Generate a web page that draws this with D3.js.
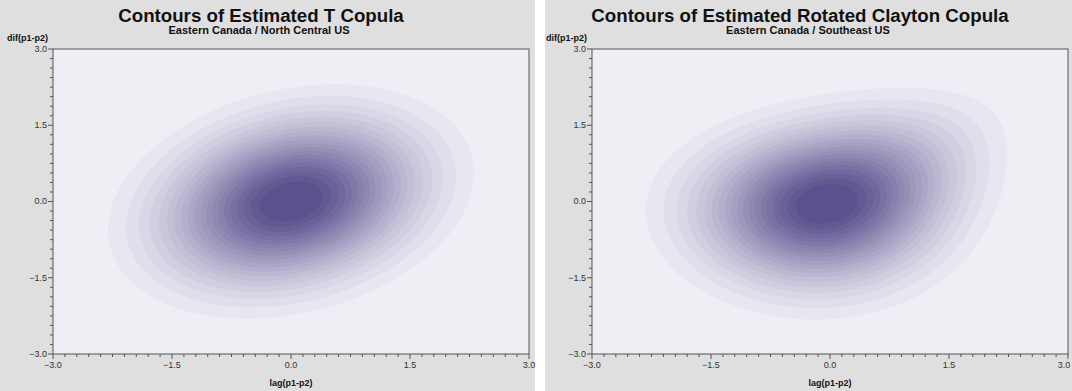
<!DOCTYPE html>
<html>
<head>
<meta charset="utf-8">
<script src="https://cdn.jsdelivr.net/npm/d3@7"></script>
<style>
  body { margin: 0; background: #ffffff; }
  svg { display: block; font-family: "Liberation Sans", Arial, sans-serif; }
</style>
</head>
<body>
<div id="chart"></div>
<script>
// panel texts
const titles = ["Contours of Estimated T Copula", "Contours of Estimated Rotated Clayton Copula"];
const subtitles = ["Eastern Canada / North Central US", "Eastern Canada / Southeast US"];
const xLabel = "lag(p1-p2)";
const yLabel = "dif(p1-p2)";

// axis ticks
const majorTicks = [-3.0, -1.5, 0.0, 1.5, 3.0];
const xMinorPerMajor = 10;
const yMinorPerMajor = 8;

// copula parameters (estimated), normal margins
const copulaTypes = ["gauss", "clayton180"];
const copulaParams = [0.24, 0.27];

// contour levels as fractions of each panel's peak density
const levelFractions = [0.07, 0.115, 0.16, 0.205, 0.25, 0.295, 0.34, 0.385, 0.43, 0.475,
  0.52, 0.565, 0.61, 0.655, 0.70, 0.745, 0.79, 0.835, 0.88, 0.925];

const W = 1072, H = 391;
const panels = [
  {x0: 0, x1: 535, left: 53, right: 529, top: 49, bottom: 354, titleX: 261, subX: 259},
  {x0: 545, x1: 1072, left: 592, right: 1068, top: 49, bottom: 354, titleX: 800, subX: 808}
];

const svg = d3.select("#chart").append("svg")
  .attr("width", W)
  .attr("height", H);

// helpers for densities
function erf(x) {
  const s = x < 0 ? -1 : 1;
  x = Math.abs(x);
  const t = 1 / (1 + 0.3275911 * x);
  const y = 1 - (((((1.061405429 * t - 1.453152027) * t) + 1.421413741) * t - 0.284496736) * t + 0.254829592) * t * Math.exp(-x * x);
  return s * y;
}
const Phi = x => 0.5 * (1 + erf(x / Math.SQRT2));
const phi = x => Math.exp(-x * x / 2) / Math.sqrt(2 * Math.PI);

function density(type, p, x, y) {
  if (type === "gauss") {
    const q = (x * x - 2 * p * x * y + y * y) / (1 - p * p);
    return Math.exp(-q / 2) / (2 * Math.PI * Math.sqrt(1 - p * p));
  }
  // survival clayton: c(1-u, 1-v)
  const u = 1 - Phi(x), v = 1 - Phi(y);
  const c = (1 + p) * Math.pow(u * v, -1 - p) * Math.pow(Math.pow(u, -p) + Math.pow(v, -p) - 1, -2 - 1 / p);
  return c * phi(x) * phi(y);
}

const n = 241;
const bandColor = d3.interpolateRgb("#e8e6f0", "#5b518e");

panels.forEach((pn, idx) => {
  const g = svg.append("g");

  g.append("rect")
    .attr("x", pn.x0).attr("y", 0)
    .attr("width", pn.x1 - pn.x0).attr("height", H)
    .attr("fill", "#dfdfdf");

  const x = d3.scaleLinear().domain([-3, 3]).range([pn.left, pn.right]);
  const y = d3.scaleLinear().domain([-3, 3]).range([pn.bottom, pn.top]);

  g.append("rect")
    .attr("x", pn.left).attr("y", pn.top)
    .attr("width", pn.right - pn.left).attr("height", pn.bottom - pn.top)
    .attr("fill", "#efeef5");

  // density grid
  const values = new Array(n * n);
  for (let j = 0; j < n; j++) {
    const yv = -3 + 6 * j / (n - 1);
    for (let i = 0; i < n; i++) {
      const xv = -3 + 6 * i / (n - 1);
      values[j * n + i] = density(copulaTypes[idx], copulaParams[idx], xv, yv);
    }
  }
  const peak = d3.max(values);
  const thresholds = levelFractions.map(f => f * peak);

  const contours = d3.contours().size([n, n]).thresholds(thresholds)(values);

  const proj = d3.geoTransform({
    point: function (gx, gy) {
      this.stream.point(x(-3 + 6 * (gx - 0.5) / (n - 1)), y(-3 + 6 * (gy - 0.5) / (n - 1)));
    }
  });
  const path = d3.geoPath(proj);

  g.append("g")
    .selectAll("path")
    .data(contours)
    .join("path")
    .attr("d", path)
    .attr("fill", (d, k) => bandColor(k / (contours.length - 1)));

  // frame
  g.append("rect")
    .attr("x", pn.left).attr("y", pn.top)
    .attr("width", pn.right - pn.left).attr("height", pn.bottom - pn.top)
    .attr("fill", "none")
    .attr("stroke", "#555")
    .attr("stroke-width", 1);

  // x axis ticks
  const xMinor = d3.range(0, 4 * xMinorPerMajor + 1).map(k => -3 + k * 1.5 / xMinorPerMajor);
  g.append("g").selectAll("line")
    .data(xMinor)
    .join("line")
    .attr("x1", d => x(d)).attr("x2", d => x(d))
    .attr("y1", pn.bottom).attr("y2", (d, k) => pn.bottom + (k % xMinorPerMajor === 0 ? 5 : 3))
    .attr("stroke", "#555");

  g.append("g").selectAll("text")
    .data(majorTicks)
    .join("text")
    .attr("x", d => Math.min(x(d), W - 8))
    .attr("y", pn.bottom + 14)
    .attr("text-anchor", "middle")
    .attr("font-size", 9)
    .attr("fill", "#333")
    .text(d => d3.format(".1f")(d));

  // y axis ticks
  const yMinor = d3.range(0, 4 * yMinorPerMajor + 1).map(k => -3 + k * 1.5 / yMinorPerMajor);
  g.append("g").selectAll("line")
    .data(yMinor)
    .join("line")
    .attr("y1", d => y(d)).attr("y2", d => y(d))
    .attr("x1", pn.left).attr("x2", (d, k) => pn.left - (k % yMinorPerMajor === 0 ? 5 : 3))
    .attr("stroke", "#555");

  g.append("g").selectAll("text")
    .data(majorTicks)
    .join("text")
    .attr("x", pn.left - 6)
    .attr("y", d => y(d))
    .attr("dy", "0.33em")
    .attr("text-anchor", "end")
    .attr("font-size", 9)
    .attr("fill", "#333")
    .text(d => d3.format(".1f")(d));

  // titles and labels
  g.append("text")
    .attr("x", pn.titleX).attr("y", 22)
    .attr("text-anchor", "middle")
    .attr("font-size", 18.7).attr("font-weight", "bold")
    .attr("fill", "#111")
    .text(titles[idx]);

  g.append("text")
    .attr("x", pn.subX).attr("y", 34)
    .attr("text-anchor", "middle")
    .attr("font-size", 11).attr("font-weight", "bold")
    .attr("fill", "#111")
    .text(subtitles[idx]);

  g.append("text")
    .attr("x", pn.left - 46).attr("y", 41)
    .attr("font-size", 9).attr("font-weight", "bold")
    .attr("fill", "#111")
    .text(yLabel);

  g.append("text")
    .attr("x", (pn.left + pn.right) / 2).attr("y", 386)
    .attr("text-anchor", "middle")
    .attr("font-size", 9).attr("font-weight", "bold")
    .attr("fill", "#111")
    .text(xLabel);
});
</script>
</body>
</html>
